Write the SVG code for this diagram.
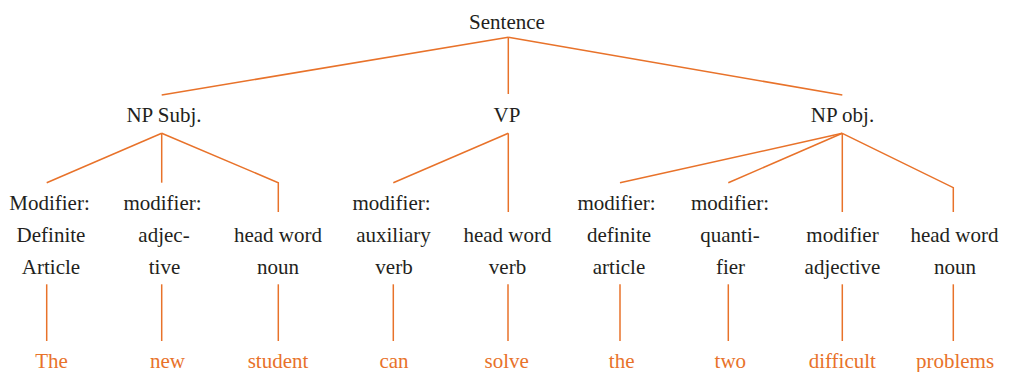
<svg xmlns="http://www.w3.org/2000/svg" width="1013" height="372" viewBox="0 0 1013 372">
<style>
text{font-family:"Liberation Serif","Times New Roman",serif;font-size:21px;text-anchor:middle;fill:#231f20}
.w{fill:#e8722a}
.c line,.c polyline{stroke:#e8722a;stroke-width:1.5;fill:none}
</style>
<rect width="1013" height="372" fill="#fff"/>
<g class="c" id="connectors">
<line x1="508.3" y1="37.3" x2="161.7" y2="95"/>
<line x1="508.3" y1="37.3" x2="508.3" y2="94"/>
<line x1="508.3" y1="37.3" x2="842.3" y2="95"/>
<line x1="161.7" y1="133.3" x2="46.7" y2="182.7"/>
<line x1="161.7" y1="133.3" x2="161.7" y2="182.7"/>
<polyline points="161.7,133.3 278.3,182.7 278.3,212"/>
<line x1="508.3" y1="133.3" x2="393.3" y2="182.7"/>
<line x1="508.3" y1="133.3" x2="508.3" y2="212"/>
<line x1="842.3" y1="133.3" x2="620" y2="182.7"/>
<line x1="842.3" y1="133.3" x2="728.3" y2="182.7"/>
<line x1="842.3" y1="133.3" x2="842.3" y2="212"/>
<polyline points="842.3,133.3 953.3,187.7 953.3,212"/>
<line x1="46.7" y1="284.3" x2="46.7" y2="341"/>
<line x1="161.7" y1="284.3" x2="161.7" y2="341"/>
<line x1="278.3" y1="284.3" x2="278.3" y2="341"/>
<line x1="393.3" y1="284.3" x2="393.3" y2="341"/>
<line x1="508" y1="284.3" x2="508" y2="341"/>
<line x1="620" y1="284.3" x2="620" y2="341"/>
<line x1="728.3" y1="284.3" x2="728.3" y2="341"/>
<line x1="842.3" y1="284.3" x2="842.3" y2="341"/>
<line x1="953.3" y1="284.3" x2="953.3" y2="341"/>
</g>
<g id="sentence"><text x="507" y="29">Sentence</text></g>
<g id="np-subj"><text x="164" y="122">NP Subj.</text></g>
<g id="vp"><text x="507" y="122">VP</text></g>
<g id="np-obj"><text x="842.5" y="122">NP obj.</text></g>
<g id="n1"><text x="49.5" y="210">Modifier:</text><text x="51" y="242">Definite</text><text x="51" y="273.5">Article</text></g>
<g id="n2"><text x="162.5" y="210">modifier:</text><text x="164" y="242">adjec-</text><text x="164.5" y="273.5">tive</text></g>
<g id="n3"><text x="278" y="242">head word</text><text x="278" y="273.5">noun</text></g>
<g id="n4"><text x="391.5" y="210">modifier:</text><text x="393.5" y="242">auxiliary</text><text x="394" y="273.5">verb</text></g>
<g id="n5"><text x="507.5" y="242">head word</text><text x="507.5" y="273.5">verb</text></g>
<g id="n6"><text x="616.5" y="210">modifier:</text><text x="619" y="242">definite</text><text x="619" y="273.5">article</text></g>
<g id="n7"><text x="730" y="210">modifier:</text><text x="730" y="242">quanti-</text><text x="730.5" y="273.5">fier</text></g>
<g id="n8"><text x="842.5" y="242">modifier</text><text x="842.5" y="273.5">adjective</text></g>
<g id="n9"><text x="954.5" y="242">head word</text><text x="955" y="273.5">noun</text></g>
<g id="words">
<text class="w" x="51.5" y="367.5">The</text>
<text class="w" x="167.5" y="367.5">new</text>
<text class="w" x="278" y="367.5">student</text>
<text class="w" x="394" y="367.5">can</text>
<text class="w" x="506.7" y="367.5">solve</text>
<text class="w" x="621.7" y="367.5">the</text>
<text class="w" x="730.3" y="367.5">two</text>
<text class="w" x="842.3" y="367.5">difficult</text>
<text class="w" x="955" y="367.5">problems</text>
</g>
</svg>
